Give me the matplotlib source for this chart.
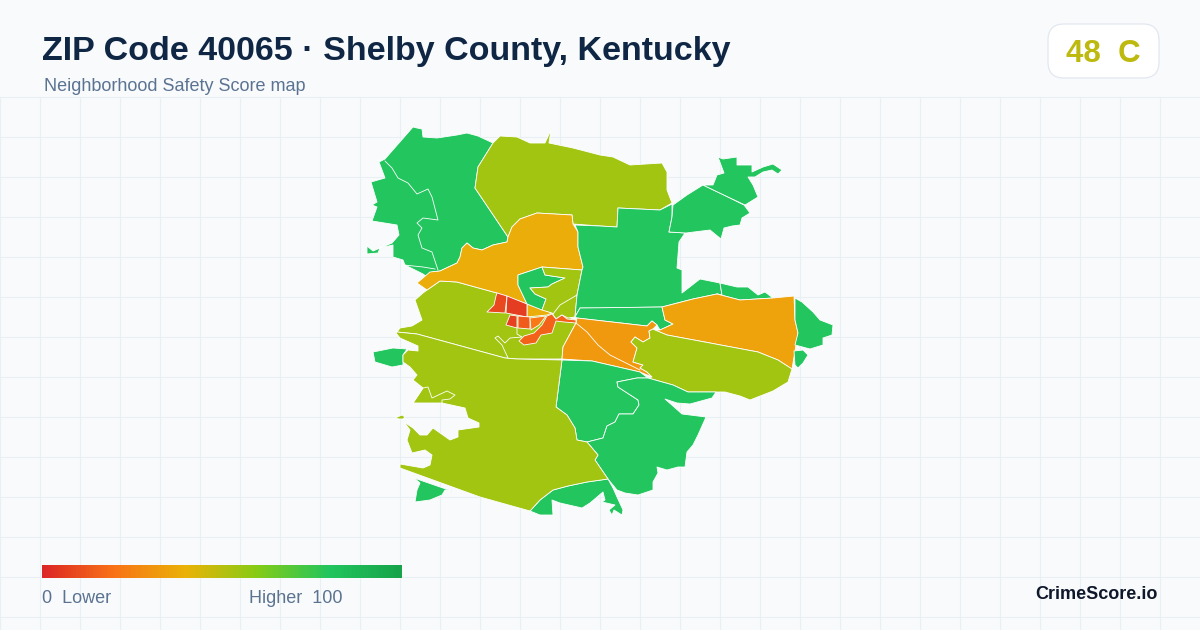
# ZIP 40065 safety score map

import matplotlib
matplotlib.use("Agg")
import matplotlib.pyplot as plt
from matplotlib.colors import LinearSegmentedColormap
from matplotlib.patches import FancyBboxPatch, Polygon
import numpy as np

plt.rcParams["font.family"] = ["Liberation Sans", "DejaVu Sans"]

TITLE = "ZIP Code 40065 · Shelby County, Kentucky"
SUBTITLE = "Neighborhood Safety Score map"
OVERALL_SCORE = 48
OVERALL_GRADE = "C"

# score scale, same stops as the legend bar
SCALE_STOPS = [0, 20, 40, 60, 80, 100]
SCALE_COLORS = ["#dc2626", "#f97316", "#eab308", "#84cc16", "#22c55e", "#16a34a"]

# region outlines (x, y in image pixels)
nw_green = [(379,162),(385,159),(413,127),(417,128),(422,129),(423,137),(437,138),(457,135),(467,133),(478,136),(493,143),(478,167),(475,188),(508,237),(507,242),(493,245),(482,250),(473,248),(467,243),(462,248),(460,257),(457,263),(440,271),(432,272),(430,279),(423,274),(405,265),(403,260),(393,257),(393,245),(380,248),(378,253),(367,254),(367,246),(373,251),(392,243),(399,235),(397,225),(372,221),(377,207),(372,205),(377,202),(371,182),(385,178)]
north_lime = [(493,143),(500,136),(517,137),(530,143),(545,143),(551,130),(549,143),(573,148),(600,155),(613,157),(630,165),(662,163),(667,172),(667,190),(672,203),(660,210),(618,208),(617,227),(600,226),(573,224),(572,215),(537,213),(520,219),(512,227),(508,237),(475,188),(478,167)]
north_amber = [(508,237),(512,227),(520,219),(537,213),(572,215),(573,224),(578,232),(578,247),(583,267),(582,270),(542,267),(518,275),(518,285),(527,304),(552,313),(547,315),(527,317),(527,304),(497,293),(457,282),(440,281),(427,290),(417,283),(430,272),(440,271),(457,263),(460,257),(462,248),(467,243),(473,248),(482,250),(493,245),(507,242)]
inner_green = [(518,275),(542,267),(545,275),(565,278),(552,284),(548,287),(530,288),(535,294),(546,299),(542,310),(527,304),(518,285)]
inner_lime = [(542,267),(582,270),(577,295),(575,317),(568,318),(562,315),(556,319),(552,313),(542,310),(546,299),(535,294),(530,288),(548,287),(552,284),(565,278),(545,275)]
red_west = [(497,293),(507,296),(505,313),(487,312),(494,305),(496,296)]
red_east = [(507,296),(527,304),(527,317),(506,313)]
red_south = [(510,315),(517,316),(517,328),(506,325)]
redorange_cell = [(518,316),(530,317),(530,329),(518,328)]
orange_cell = [(530,318),(546,316),(539,325),(531,330)]
orange_blob = [(552,314),(556,319),(562,315),(567,319),(576,320),(576,323),(564,322),(556,321),(552,333),(541,335),(536,343),(524,345),(519,341),(524,336),(534,333),(542,325),(547,316)]
west_lime = [(427,290),(440,281),(457,282),(497,293),(527,304),(552,313),(562,315),(576,320),(576,323),(563,347),(562,359),(517,359),(505,358),(417,334),(397,332),(400,328),(412,326),(422,320),(415,300),(423,293)]
center_green = [(575,225),(600,226),(617,227),(618,208),(660,210),(672,204),(672,217),(669,232),(685,233),(679,242),(677,268),(682,270),(682,293),(700,279),(720,283),(722,295),(717,294),(693,299),(662,307),(600,308),(580,308),(575,317),(577,295),(582,270),(583,267),(578,247),(578,232)]
strip_green = [(580,308),(662,307),(665,320),(673,324),(660,330),(657,325),(652,321),(647,326),(577,318),(575,317)]
ridge_green = [(720,283),(737,287),(748,287),(758,295),(765,292),(773,298),(740,300),(717,294),(722,295)]
east_orange = [(662,307),(693,299),(717,294),(740,300),(773,298),(794,296),(795,320),(798,333),(792,369),(778,360),(758,352),(710,343),(667,335),(655,330),(660,330),(673,324),(665,320)]
east_green = [(795,298),(802,302),(813,312),(820,320),(833,325),(832,335),(823,338),(823,345),(810,349),(795,345),(798,333),(795,320)]
east_green_small = [(794,351),(803,350),(808,355),(803,363),(798,368),(795,365)]
ne_green_south = [(703,185),(687,195),(673,205),(672,217),(669,232),(686,233),(710,230),(721,239),(724,228),(732,226),(740,225),(742,218),(750,213),(744,205),(728,197)]
ne_green_north = [(703,185),(713,185),(717,175),(724,173),(718,157),(723,159),(737,157),(737,165),(752,165),(752,172),(763,167),(773,164),(782,170),(778,174),(772,170),(763,172),(755,177),(748,177),(753,185),(758,197),(745,205),(728,197)]
center_orange = [(576,323),(577,318),(647,326),(652,321),(657,325),(653,329),(649,331),(650,338),(643,342),(635,337),(631,342),(637,348),(633,362),(643,365),(640,368),(647,372),(652,377),(640,372),(592,361),(562,359),(563,347)]
east_lime = [(655,330),(667,335),(710,343),(758,352),(778,360),(792,369),(788,382),(773,391),(750,400),(740,396),(725,392),(688,392),(673,385),(648,378),(652,377),(647,372),(640,368),(643,365),(633,362),(637,348),(631,342),(635,337),(643,342),(650,338),(649,331),(653,329)]
south_green = [(562,360),(592,361),(640,372),(648,378),(637,378),(617,382),(618,387),(638,400),(639,405),(633,414),(619,414),(615,422),(607,426),(603,438),(587,442),(577,440),(575,428),(567,415),(556,407)]
se_green = [(617,382),(637,378),(648,378),(673,385),(688,392),(716,392),(712,398),(690,404),(677,403),(665,399),(673,406),(682,414),(706,417),(698,435),(693,445),(687,452),(685,467),(678,467),(667,470),(657,467),(658,473),(653,482),(653,490),(638,495),(625,493),(617,490),(608,479),(595,460),(598,455),(587,442),(603,438),(607,426),(615,422),(619,414),(633,414),(639,405),(638,400),(618,387)]
bottom_green = [(608,479),(587,482),(568,486),(553,490),(540,500),(530,511),(540,515),(553,515),(552,500),(560,503),(582,508),(590,503),(603,492),(605,500),(602,502),(615,505),(609,510),(612,515),(614,510),(622,515),(623,510),(617,497),(613,488)]
west_green_small = [(373,352),(393,348),(407,349),(403,355),(403,365),(392,367),(375,362)]
sw_green_small = [(414,478),(443,488),(455,492),(445,490),(442,495),(430,500),(415,502),(417,490),(420,483)]
south_lime = [(397,332),(417,334),(505,358),(517,359),(562,360),(556,407),(567,415),(575,428),(577,440),(587,442),(598,455),(595,460),(608,479),(587,482),(568,486),(553,490),(540,500),(530,511),(480,497),(400,468),(400,464),(423,468),(430,465),(432,455),(425,450),(412,453),(407,440),(410,430),(404,422),(413,428),(420,435),(427,435),(433,428),(450,440),(458,437),(458,430),(479,427),(479,423),(468,418),(465,408),(442,403),(413,403),(423,388),(413,380),(417,375),(410,367),(403,362),(403,355),(408,350),(418,351),(418,346),(400,338),(396,333)]
south_lime_islet = [(395,418),(402,415),(405,417),(403,419),(399,419)]

REGIONS = [nw_green, north_lime, west_lime, north_amber, inner_green, inner_lime,
           center_green, strip_green, ridge_green, east_orange, east_green, east_green_small,
           ne_green_south, ne_green_north, center_orange, east_lime, south_green,
           se_green, bottom_green, west_green_small, sw_green_small, south_lime,
           south_lime_islet, red_west, red_east, red_south, redorange_cell,
           orange_cell, orange_blob]
REGION_SCORES = [80, 54, 54, 38, 80, 54,
                 80, 80, 80, 35, 80, 80,
                 80, 80, 32, 54, 80,
                 80, 80, 80, 80, 54,
                 54, 9, 6, 7, 14,
                 22, 16]

# tract lines inside the same colour
inner_lines = [
    [(385,161),(392,168),(398,178),(408,183),(417,194),(428,189),(432,197),(438,220),(423,218),(417,223),(422,228),(418,235),(422,248),(432,252),(438,270)],
    [(404,265),(423,267),(435,269)],
    [(508,358),(502,345),(495,338),(498,336),(505,343),(510,338),(522,337),(517,334),(517,328)],
    [(577,295),(560,305),(553,314)],
    [(576,323),(587,332),(598,345),(610,355),(640,370)],
    [(413,403),(423,388),(428,387),(432,398),(447,391),(455,395),(450,399),(442,400),(442,403)],
]

# page
BG = "#f8fafc"
GRID = "#e8eff5"

fig = plt.figure(figsize=(12, 6.3), dpi=100, facecolor=BG)
ax = fig.add_axes([0, 0, 1, 1])
ax.set_xlim(0, 1200)
ax.set_ylim(630, 0)
ax.axis("off")

for x in np.arange(0, 1200, 40):
    ax.plot([x, x], [97, 630], color=GRID, lw=0.8, zorder=1)
for y in np.arange(97, 630, 40):
    ax.plot([0, 1200], [y, y], color=GRID, lw=0.8, zorder=1)

cmap = LinearSegmentedColormap.from_list(
    "safety", [(s / 100, c) for s, c in zip(SCALE_STOPS, SCALE_COLORS)]
)

for pts, score in zip(REGIONS, REGION_SCORES):
    ax.add_patch(Polygon(pts, closed=True, facecolor=cmap(score / 100),
                         edgecolor="white", lw=0.6, joinstyle="round", zorder=2))
for line in inner_lines:
    xs, ys = zip(*line)
    ax.plot(xs, ys, color="white", lw=0.6, zorder=3)

# title block
ax.text(42, 60, TITLE, fontsize=24.5, fontweight="bold", color="#0f2744", va="baseline", zorder=5)
ax.text(44, 91, SUBTITLE, fontsize=12.95, color="#5b7391", va="baseline", zorder=5)

# score badge
ax.add_patch(FancyBboxPatch((1064, 40), 79, 22,
                            boxstyle="round,pad=16,rounding_size=16",
                            facecolor="white", edgecolor="#e2e8f0", lw=0.9, zorder=4))
ax.text(1103, 62, f"{OVERALL_SCORE}  {OVERALL_GRADE}", fontsize=22.5, fontweight="bold",
        color="#bdb90f", ha="center", va="baseline", zorder=5)

# legend bar
grad = np.linspace(0, 1, 360).reshape(1, -1)
ax.imshow(grad, cmap=cmap, extent=(42, 402, 578, 565), aspect="auto", zorder=4)
ax.set_xlim(0, 1200)
ax.set_ylim(630, 0)
ax.text(42, 603, "0  Lower", fontsize=12.95, color="#5b7391", va="baseline", zorder=5)
ax.text(249, 603, "Higher  100", fontsize=12.95, color="#5b7391", va="baseline", zorder=5)
ax.text(1158, 599, "CrimeScore.io", fontsize=13, fontweight="bold", color="#0f172a",
        ha="right", va="baseline", zorder=5)

fig.savefig("out.png", dpi=100, facecolor=BG)
plt.close(fig)
